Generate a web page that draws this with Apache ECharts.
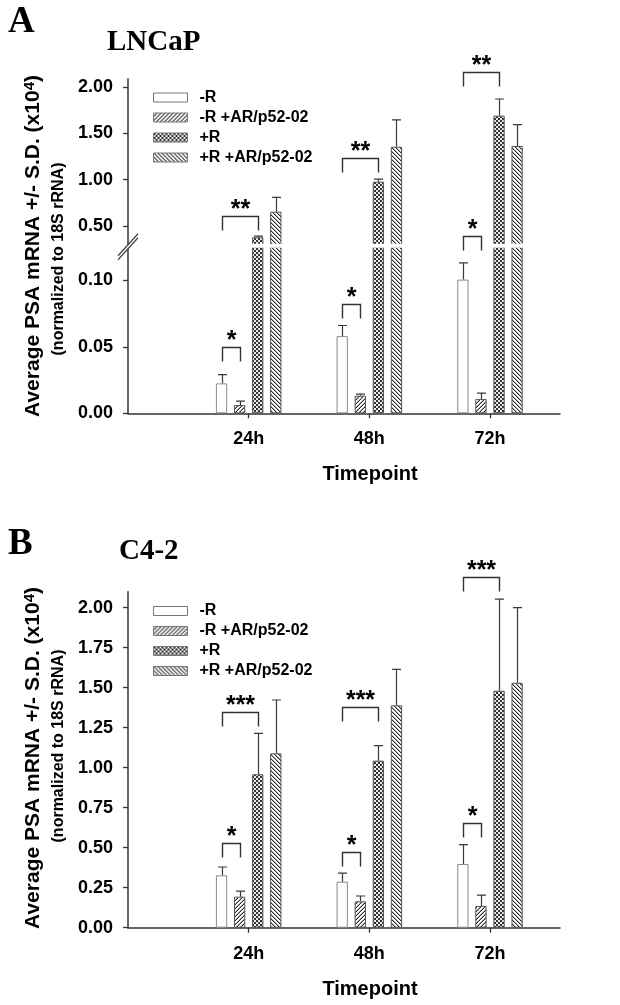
<!DOCTYPE html>
<html><head><meta charset="utf-8">
<script src="https://cdn.jsdelivr.net/npm/echarts@6/dist/echarts.min.js"></script>
<style>html,body{margin:0;padding:0;background:#fff}#c{width:620px;height:1005px}</style>
</head><body><div id="c"></div>
<script>
// ---------- data ----------
const TIMEPOINTS = ['24h', '48h', '72h'];
const SERIES_NAMES = ['-R', '-R +AR/p52-02', '+R', '+R +AR/p52-02'];
const A_Y_TICKS_LOW = [0, 0.05, 0.10];
const A_Y_TICKS_HIGH = [0.50, 1.00, 1.50, 2.00];
const B_Y_TICKS = [0, 0.25, 0.5, 0.75, 1.0, 1.25, 1.5, 1.75, 2.0];

// Panel A (LNCaP): means and S.D. per timepoint
const A_MINUS_R      = [0.0225, 0.058, 0.1005];
const A_MINUS_R_SD   = [0.0065, 0.008, 0.0125];
const A_MINUS_R_AR   = [0.0062, 0.0132, 0.0107];
const A_MINUS_R_AR_SD= [0.003, 0.0012, 0.0045];
const A_PLUS_R       = [0.378, 0.978, 1.69];
const A_PLUS_R_SD    = [0.012, 0.028, 0.18];
const A_PLUS_R_AR    = [0.654, 1.355, 1.363];
const A_PLUS_R_AR_SD = [0.155, 0.29, 0.23];

// Panel B (C4-2)
const B_MINUS_R      = [0.3275, 0.2875, 0.398];
const B_MINUS_R_SD   = [0.052, 0.053, 0.121];
const B_MINUS_R_AR   = [0.194, 0.165, 0.136];
const B_MINUS_R_AR_SD= [0.034, 0.033, 0.068];
const B_PLUS_R       = [0.959, 1.044, 1.481];
const B_PLUS_R_SD    = [0.256, 0.094, 0.573];
const B_PLUS_R_AR    = [1.09, 1.39, 1.531];
const B_PLUS_R_AR_SD = [0.333, 0.225, 0.469];

// significance brackets: [timepoint index (1..3), from series, to series, level, label]
const A_BRACKETS_LOW  = [[1, 0, 1, 0.050, '*'], [2, 0, 1, 0.0822, '*']];
const A_BRACKETS_HIGH = [[1, 0, 2, 0.611, '**'], [2, 0, 2, 1.23, '**'], [3, 0, 1, 0.389, '*'], [3, 0, 2, 2.165, '**']];
const B_BRACKETS      = [[1, 0, 1, 0.5275, '*'], [1, 0, 2, 1.348, '***'], [2, 0, 1, 0.471, '*'], [2, 0, 2, 1.3775, '***'], [3, 0, 1, 0.6525, '*'], [3, 0, 2, 2.194, '***']];

// ---------- styling ----------
const SANS = 'Liberation Sans, Arial, sans-serif';
const SERIF = 'Liberation Serif, Times New Roman, serif';
const BAR_W = 11.3, BAR_GAP = 0.6;
const STEP = BAR_W * (1 + BAR_GAP);
const OFFS = [-1.5, -0.5, 0.5, 1.5].map(k => k * STEP);
const CAP = 9, LEG = 14;

function makePattern(kind) {
  const s = 4;
  const c = document.createElement('canvas');
  c.width = s; c.height = s;
  const g = c.getContext('2d');
  const img = g.createImageData(s, s);
  for (let y = 0; y < s; y++) for (let x = 0; x < s; x++) {
    let v = 255;
    if (kind === 'fwd') { const d = (x + y) % 4; v = d === 3 ? 40 : (d === 2 ? 170 : 255); }
    else if (kind === 'back') { const d = ((x - y) % 4 + 4) % 4; v = d === 0 ? 40 : (d === 1 ? 170 : 255); }
    else if (kind === 'check') { v = ((Math.floor(x / 2) + Math.floor(y / 2)) % 2 === 0) ? 50 : 235; }
    const i = (y * s + x) * 4;
    img.data[i] = img.data[i + 1] = img.data[i + 2] = v; img.data[i + 3] = 255;
  }
  g.putImageData(img, 0, 0);
  return { image: c, repeat: 'repeat' };
}
const FILLS = ['#ffffff', makePattern('fwd'), makePattern('check'), makePattern('back')];
const BORDERS = ['#8a8a8a', '#555', '#555', '#555'];

// grid geometry
const LEFT = 128, RIGHT = 60;
const GRIDS = [
  { left: LEFT, right: RIGHT, top: 79, height: 165.5 },     // A upper
  { left: LEFT, right: RIGHT, top: 247, height: 166.3 },    // A lower
  { left: LEFT, right: RIGHT, top: 591.7, height: 336 }     // B
];

const axisLabelStyle = { color: '#000', fontFamily: SANS, fontWeight: 'bold', fontSize: 18 };

function xAxis(gi, show) {
  return {
    type: 'value', gridIndex: gi, min: 0, max: 3.58, show: show,
    axisLine: { show: true, onZero: false, lineStyle: { color: '#333', width: 1.5 } },
    axisTick: { show: true, length: 5, customValues: [1, 2, 3], lineStyle: { color: '#333', width: 1.3 } },
    axisLabel: Object.assign({ customValues: [1, 2, 3], margin: 17, formatter: v => TIMEPOINTS[Math.round(v) - 1] }, axisLabelStyle),
    splitLine: { show: false }
  };
}
function yAxis(gi, min, max, ticks) {
  return {
    type: 'value', gridIndex: gi, min: min, max: max,
    axisLine: { show: true, lineStyle: { color: '#333', width: 1.5 } },
    axisTick: { show: true, length: 5, customValues: ticks, lineStyle: { color: '#333', width: 1.3 } },
    axisLabel: Object.assign({ customValues: ticks, margin: 15, formatter: v => v.toFixed(2) }, axisLabelStyle),
    splitLine: { show: false }
  };
}

function barSeries(gi, si, means) {
  return {
    type: 'bar', name: SERIES_NAMES[si], xAxisIndex: gi, yAxisIndex: gi,
    barWidth: BAR_W, barGap: (BAR_GAP * 100) + '%', clip: true, z: 2,
    itemStyle: { color: FILLS[si], borderColor: BORDERS[si], borderWidth: 1 },
    emphasis: { disabled: true }, silent: true,
    data: means.map((m, i) => [i + 1, m])
  };
}
function errSeries(gi, si, means, sds) {
  return {
    type: 'custom', xAxisIndex: gi, yAxisIndex: gi, clip: true, silent: true, z: 3,
    data: means.map((m, i) => [i + 1, m, m + sds[i]]),
    encode: { x: 0, y: [1, 2] },
    renderItem(params, api) {
      const x = api.value(0);
      const p0 = api.coord([x, api.value(1)]);
      const p1 = api.coord([x, api.value(2)]);
      const cx = Math.round(p0[0] + OFFS[si]) + 0.5;
      const st = { stroke: '#3a3a3a', lineWidth: 1.2 };
      return { type: 'group', children: [
        { type: 'line', shape: { x1: cx, y1: p0[1], x2: cx, y2: p1[1] }, style: st },
        { type: 'line', shape: { x1: cx - CAP / 2, y1: p1[1], x2: cx + CAP / 2, y2: p1[1] }, style: st }
      ] };
    }
  };
}
function bracketSeries(gi, brackets) {
  return {
    type: 'custom', xAxisIndex: gi, yAxisIndex: gi, clip: false, silent: true, z: 60,
    data: brackets.map(b => [b[0], b[3]]),
    encode: { x: 0, y: 1 },
    renderItem(params, api) {
      const b = brackets[params.dataIndex];
      const p = api.coord([api.value(0), api.value(1)]);
      const x1 = Math.round(p[0] + OFFS[b[1]]) + 0.5, x2 = Math.round(p[0] + OFFS[b[2]]) + 0.5, y = Math.round(p[1]) + 0.5;
      return { type: 'group', children: [
        { type: 'polyline', shape: { points: [[x1, y + LEG], [x1, y], [x2, y], [x2, y + LEG]] },
          style: { stroke: '#333', lineWidth: 1.4, fill: null } },
        { type: 'text', x: (x1 + x2) / 2, y: y - 6,
          style: { text: b[4], fill: '#000', font: 'bold 25px ' + SANS, align: 'center', verticalAlign: 'middle', textAlign: 'center', textVerticalAlign: 'middle' } }
      ] };
    }
  };
}

const A_MEANS = [A_MINUS_R, A_MINUS_R_AR, A_PLUS_R, A_PLUS_R_AR];
const A_SDS = [A_MINUS_R_SD, A_MINUS_R_AR_SD, A_PLUS_R_SD, A_PLUS_R_AR_SD];
const B_MEANS = [B_MINUS_R, B_MINUS_R_AR, B_PLUS_R, B_PLUS_R_AR];
const B_SDS = [B_MINUS_R_SD, B_MINUS_R_AR_SD, B_PLUS_R_SD, B_PLUS_R_AR_SD];

const series = [];
[[0, A_MEANS, A_SDS], [1, A_MEANS, A_SDS], [2, B_MEANS, B_SDS]].forEach(([gi, M, S]) => {
  for (let si = 0; si < 4; si++) series.push(barSeries(gi, si, M[si]));
  for (let si = 0; si < 4; si++) series.push(errSeries(gi, si, M[si], S[si]));
});
series.push(bracketSeries(0, A_BRACKETS_HIGH));
series.push(bracketSeries(1, A_BRACKETS_LOW));
series.push(bracketSeries(2, B_BRACKETS));

function legend(top) {
  return {
    data: SERIES_NAMES.map(n => ({ name: n, icon: 'rect' })),
    orient: 'vertical', left: 148, top: top, itemWidth: 34, itemHeight: 9, itemGap: 4,
    selectedMode: false,
    itemStyle: { borderColor: '#777', borderWidth: 1 },
    textStyle: { color: '#000', fontFamily: SANS, fontWeight: 'bold', fontSize: 16, padding: [0, 0, 0, 7] }
  };
}

function vtext(x, y, text, size, rich) {
  return { type: 'text', x: x, y: y, rotation: Math.PI / 2, z: 50,
    style: { text: text, rich: rich, fill: '#000', font: 'bold ' + size + 'px ' + SANS,
      align: 'center', verticalAlign: 'middle', textAlign: 'center', textVerticalAlign: 'middle' } };
}
function htext(x, y, text, font, align) {
  return { type: 'text', x: x, y: y, z: 50,
    style: { text: text, fill: '#000', font: font, align: align, verticalAlign: 'middle', textAlign: align, textVerticalAlign: 'middle' } };
}
const supRich = { sup: { fontSize: 15, fontWeight: 'bold', fontFamily: SANS, verticalAlign: 'top', padding: [0, 0, 7, 0] } };
const YTITLE = 'Average PSA mRNA +/- S.D. (x10{sup|4})';
const YSUB = '(normalized to 18S rRNA)';

// break decoration geometry (at the junction of the two panel-A grids)
const breakY = (GRIDS[0].top + GRIDS[0].height + GRIDS[1].top) / 2;
const graphic = [
  { type: 'rect', z: 40, shape: { x: LEFT + 1, y: GRIDS[0].top + GRIDS[0].height - 0.8, width: 620 - RIGHT - LEFT - 1, height: GRIDS[1].top - (GRIDS[0].top + GRIDS[0].height) + 1.6 }, style: { fill: '#fff' } },
  { type: 'polygon', z: 41, shape: { points: [[LEFT - 10, breakY + 10], [LEFT + 10, breakY - 12], [LEFT + 10, breakY - 8], [LEFT - 10, breakY + 14]] }, style: { fill: '#fff' } },
  { type: 'line', z: 42, shape: { x1: LEFT - 10, y1: breakY + 10, x2: LEFT + 10, y2: breakY - 12 }, style: { stroke: '#444', lineWidth: 1.2 } },
  { type: 'line', z: 42, shape: { x1: LEFT - 10, y1: breakY + 14, x2: LEFT + 10, y2: breakY - 8 }, style: { stroke: '#444', lineWidth: 1.2 } },
  htext(8, 22.5, 'A', 'bold 37px ' + SERIF, 'left'),
  htext(107, 43, 'LNCaP', 'bold 29px ' + SERIF, 'left'),
  htext(8, 544, 'B', 'bold 37px ' + SERIF, 'left'),
  htext(119, 551.5, 'C4-2', 'bold 29px ' + SERIF, 'left'),
  vtext(33, 246, YTITLE, 21, supRich),
  vtext(59, 259, YSUB, 16),
  vtext(33, 758, YTITLE, 21, supRich),
  vtext(59, 746, YSUB, 16),
  htext(370, 474.5, 'Timepoint', 'bold 20px ' + SANS, 'center'),
  htext(370, 989, 'Timepoint', 'bold 20px ' + SANS, 'center')
];

const chart = echarts.init(document.getElementById('c'), null, { renderer: 'canvas' });
chart.setOption({
  animation: false,
  backgroundColor: '#fff',
  grid: GRIDS,
  xAxis: [xAxis(0, false), xAxis(1, true), xAxis(2, true)],
  yAxis: [yAxis(0, 0.3, 2.086, A_Y_TICKS_HIGH), yAxis(1, 0, 0.125, A_Y_TICKS_LOW), yAxis(2, 0, 2.1, B_Y_TICKS)],
  legend: [legend(84.5), legend(598)],
  series: series,
  graphic: graphic
});
</script></body></html>
